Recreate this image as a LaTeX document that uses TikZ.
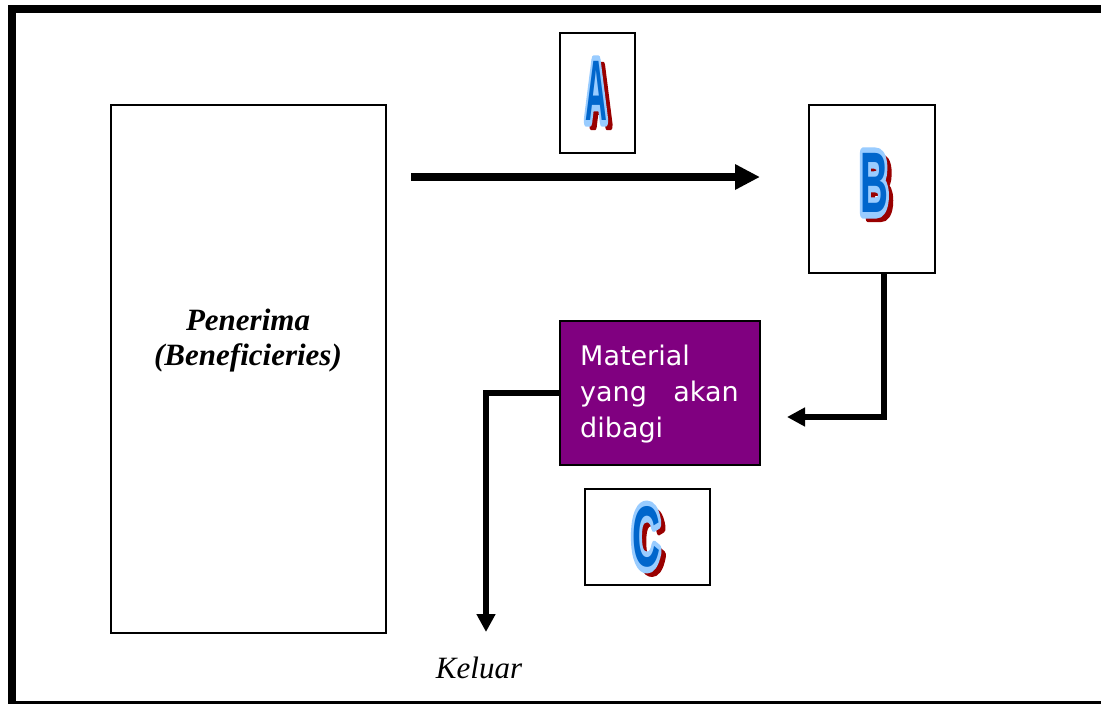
\documentclass[tikz,border=0pt]{standalone}
\usepackage{fontspec}
\setmainfont{Liberation Serif}
\newfontfamily\matfont{DejaVu Sans}
\newfontfamily\letfont{Liberation Sans}
\usetikzlibrary{arrows.meta,calc}
\definecolor{matpurple}{HTML}{800080}
\definecolor{letblue}{HTML}{0066CC}
\definecolor{letlight}{HTML}{99CCFF}
\definecolor{letred}{HTML}{990000}
\tikzset{
  box/.style={draw, line width=1.5pt, inner sep=0pt, fill=white},
  bigarrow/.style={line width=8pt, -{Triangle[length=25pt,width=24pt]}},
  conn/.style={line width=5.5pt, -{Triangle[length=18pt,width=18pt]}},
  sertext/.style={font=\fontsize{31}{35}\selectfont\bfseries\itshape, align=center, inner sep=0pt},
  mattext/.style={text=white, font=\matfont\fontsize{27}{30}\selectfont, inner sep=0pt, anchor=base west},
  letnode/.style={font=\letfont\bfseries\fontsize{86}{86}\selectfont, inner sep=0pt, anchor=center},
}
% stroked + filled text through raw PDF operators: colour, line width, text
\newcommand\strokedtext[3]{\special{pdf:literal direct #1 rg #1 RG #2 w 1 j 2 Tr}#3\special{pdf:literal direct 0 Tr 0 g 0 G}}
\newcommand\fancyletter[5]{%
  \node[letnode] (#1-s) at (#2+5,#3+5) {\scalebox{#5}[1]{\strokedtext{0.6 0 0}{9}{#4}}};
  \node[letnode] (#1-o) at (#2,#3) {\scalebox{#5}[1]{\strokedtext{0.6 0.8 1}{12}{#4}}};
  \node[letnode, text=letblue] (#1) at (#2,#3) {\scalebox{#5}[1]{#4}};
}
\begin{document}
\begin{tikzpicture}[x=1pt,y=-1pt]
\useasboundingbox (0,0) rectangle (1101,704);
% outer frame
\draw[line width=8pt] (1200,9) -- (12,9) -- (12,705) -- (1200,705);
% boxes
\node[box, minimum width=275pt, minimum height=528pt] (pen) at (248.5,369) {};
\node[sertext] (penlab) at (248,341) {Penerima\\(Beneficieries)};
\node[box, minimum width=75pt, minimum height=120pt] (boxA) at (597.5,93) {};
\node[box, minimum width=126pt, minimum height=168pt] (boxB) at (872,189) {};
\node[box, minimum width=125pt, minimum height=96pt] (boxC) at (647.5,537) {};
\node[box, fill=matpurple, minimum width=200pt, minimum height=144pt] (mat) at (660,393) {};
\node[mattext] (m1) at (580,365) {Material};
\node[mattext] (m2) at (580,401) {yang};
\node[mattext, anchor=base east] (m3) at (739,401) {akan};
\node[mattext] (m4) at (580,437) {dibagi};
% letters
\fancyletter{LA}{596}{91}{A}{0.35}
\fancyletter{LB}{874}{183}{B}{0.45}
\fancyletter{LC}{646}{537}{C}{0.45}
% connectors
\coordinate (a0) at (411,177);
\coordinate (a1) at (760,177);
\draw[bigarrow] (a0) -- (a1);
\coordinate (b0) at (884,273);
\coordinate (b1) at (787,417);
\draw[conn] (b0) |- (b1);
\coordinate (k1) at (486,632);
\draw[conn] (mat.west) -| (k1);
\node[font=\fontsize{31}{33}\selectfont\itshape, inner sep=0pt] (keluar) at (479,668) {Keluar};
\end{tikzpicture}
\end{document}
